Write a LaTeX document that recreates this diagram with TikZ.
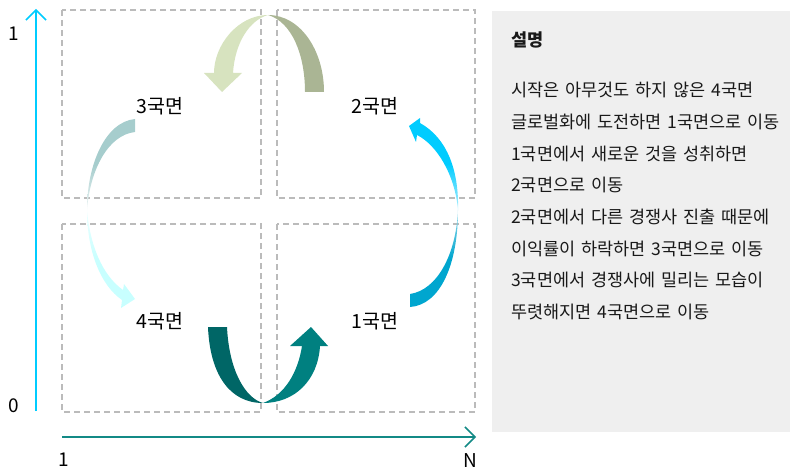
\documentclass[tikz,border=0pt]{standalone}
\usepackage{fontspec}
\setmainfont{Noto Sans CJK KR}
\newfontfamily\descfont[WordSpace=1.5]{Noto Sans CJK KR}
\usetikzlibrary{arrows.meta}
\definecolor{dashgray}{HTML}{BBBBBB}
\definecolor{panelgray}{HTML}{EFEFEF}
\definecolor{ycyan}{HTML}{00CCFF}
\definecolor{xteal}{HTML}{138A86}
\definecolor{archL}{HTML}{D7E3BF}
\definecolor{archR}{HTML}{AAB594}
\definecolor{botL}{HTML}{006666}
\definecolor{botR}{HTML}{008080}
\definecolor{rTop}{HTML}{00CCFF}
\definecolor{rBot}{HTML}{00A6CF}
\definecolor{lTop}{HTML}{A6CDCD}
\definecolor{lBot}{HTML}{C8FFFF}
\tikzset{
  qbox/.style={draw=dashgray, line width=1.5pt, dash pattern=on 6pt off 4pt},
  axisarrow/.style={line width=1.8pt, -{Straight Barb[length=10pt,width=20pt,line width=1.5pt]}},
  quad/.style={font=\fontsize{19.5}{22}\selectfont, inner sep=0pt, text=black},
  axlab/.style={font=\fontsize{19}{21}\selectfont, inner sep=0pt, text=black},
  desc/.style={font=\descfont\fontsize{17.5}{20}\selectfont, inner sep=0pt, anchor=base west, text=black!90},
}
\begin{document}
\begin{tikzpicture}[x=1pt,y=-1pt]
\useasboundingbox (0,0) rectangle (790,468);
% panel
\fill[panelgray] (492,11) rectangle (790,432);
% dashed quadrant boxes
\draw[qbox] (62,10) rectangle (261,198);
\draw[qbox] (277,10) rectangle (475,198);
\draw[qbox] (62,224) rectangle (261,412);
\draw[qbox] (277,224) rectangle (475,412);
% axes
\coordinate (yo) at (36,411);
\coordinate (yt) at (36,9);
\coordinate (xo) at (62,437);
\coordinate (xt) at (476,437);
\draw[axisarrow, ycyan] (yo) -- (yt);
\draw[axisarrow, xteal] (xo) -- (xt);
\node[axlab] (y1) at (14,34) {1};
\node[axlab] (y0) at (14,406) {0};
\node[axlab, anchor=north] (x1) at (64,453) {1};
\node[axlab, anchor=north] (xN) at (470,453) {N};
% quadrant labels
\node[quad] (q3) at (160,106) {3국면};
\node[quad] (q2) at (375,106) {2국면};
\node[quad] (q4) at (160,321) {4국면};
\node[quad] (q1) at (375,321) {1국면};
% top arch (2 -> 3)
\fill[archR] (268,15) .. controls (300,15) and (324,50) .. (324,92) -- (305,92)
  .. controls (305,55) and (292,22) .. (268,15) -- cycle;
\fill[archL] (268,15) .. controls (238,15) and (214,45) .. (214,73) -- (204,73) -- (222,92)
  -- (242,73) -- (233,73) .. controls (235,42) and (250,20) .. (268,15) -- cycle;
% bottom arch (4 -> 1)
\fill[botL] (208,327) .. controls (210,375) and (230,403) .. (263,403)
  .. controls (245,398) and (229,370) .. (227,327) -- cycle;
\fill[botR] (263,403) .. controls (295,403) and (318,380) .. (320,346) -- (328,346) -- (311,327)
  -- (290,346) -- (302,346) .. controls (298,372) and (285,395) .. (263,403) -- cycle;
% right arrow (1 -> 2)
\shade[top color=rBot!40!white, bottom color=rBot, middle color=rBot] (458,210) .. controls (458,265) and (440,305) .. (410,307)
  -- (410,294) .. controls (437,290) and (456,255) .. (458,210) -- cycle;
\shade[top color=rTop, bottom color=rTop!30!white, middle color=rTop] (458,210) .. controls (459,170) and (447,138) .. (420,123)
  -- (420,118) -- (409,126) -- (416,142) -- (417,135)
  .. controls (437,145) and (455,175) .. (458,210) -- cycle;
% left arrow (3 -> 4)
\shade[top color=lTop, bottom color=lTop!20!white, middle color=lTop] (135,119) .. controls (105,122) and (87,165) .. (87,210)
  .. controls (90,170) and (108,135) .. (135,132) -- cycle;
\shade[top color=lBot!30!white, bottom color=lBot, middle color=lBot] (87,210) .. controls (87,250) and (100,285) .. (122,300)
  -- (121,308) -- (135,299) -- (124,284) -- (123,290)
  .. controls (102,275) and (90,245) .. (87,210) -- cycle;
% description
\node[desc, font=\fontsize{17.5}{20}\selectfont\bfseries] (title) at (511,47) {설명};
\node[desc] (l1) at (511,97) {시작은 아무것도 하지 않은 4국면};
\node[desc] (l2) at (511,128.6) {글로벌화에 도전하면 1국면으로 이동};
\node[desc] (l3) at (511,160.2) {1국면에서 새로운 것을 성취하면};
\node[desc] (l4) at (511,191.8) {2국면으로 이동};
\node[desc] (l5) at (511,223.4) {2국면에서 다른 경쟁사 진출 때문에};
\node[desc] (l6) at (511,255) {이익률이 하락하면 3국면으로 이동};
\node[desc] (l7) at (511,286.6) {3국면에서 경쟁사에 밀리는 모습이};
\node[desc] (l8) at (511,318.2) {뚜렷해지면 4국면으로 이동};
\end{tikzpicture}
\end{document}
